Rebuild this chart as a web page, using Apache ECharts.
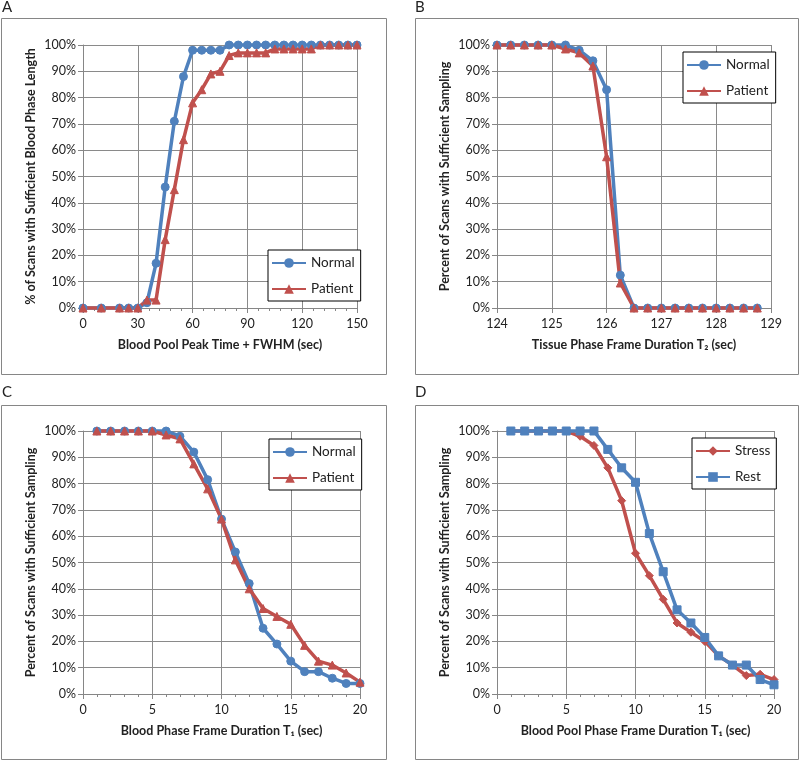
<!DOCTYPE html>
<html><head><meta charset="utf-8">
<script src="https://cdn.jsdelivr.net/npm/echarts@6/dist/echarts.min.js"></script>
<style>html,body{margin:0;padding:0;background:#fff}#c{width:800px;height:761px}</style>
</head><body><div id="c"></div>
<script>
// Panel A
const aX = [0,10,20,25,30,35,40,45,50,55,60,65,70,75,80,85,90,95,100,105,110,115,120,125,130,135,140,145,150];
const aNormal = [0,0,0,0,0,2,17,46,71,88,98,98,98,98,100,100,100,100,100,100,100,100,100,100,100,100,100,100,100];
const aPatient = [0,0,0,0,0,3,3,26,45,64,78,83,89,90,96,97,97,97,97,98.5,98.5,98.5,98.5,98.5,100,100,100,100,100];
// Panel B
const bX = [124,124.25,124.5,124.75,125,125.25,125.5,125.75,126,126.25,126.5,126.75,127,127.25,127.5,127.75,128,128.25,128.5,128.75];
const bNormal = [100,100,100,100,100,100,98,94,83,12.5,0,0,0,0,0,0,0,0,0,0];
const bPatient = [100,100,100,100,100,98.5,97,92,57.5,9.5,0,0,0,0,0,0,0,0,0,0];
// Panel C
const cX = [1,2,3,4,5,6,7,8,9,10,11,12,13,14,15,16,17,18,19,20];
const cNormal = [100,100,100,100,100,100,98,92,81.5,66.5,54,42,25,19,12.5,8.5,8.5,6,4,4];
const cPatient = [100,100,100,100,100,98.5,97,87.5,78,66.5,51,40,32.5,29.5,26.5,18.5,12.5,11,8,4.5];
// Panel D
const dX = [1,2,3,4,5,6,7,8,9,10,11,12,13,14,15,16,17,18,19,20];
const dStress = [100,100,100,100,100,98,94.5,86,73.5,53.5,45,36,27,23.5,20,14.5,11,7,7.5,5.5];
const dRest = [100,100,100,100,100,100,100,93,86,80.5,61,46.5,32,27,21.5,14.5,11,11,5.5,3.5];

const titlesX = ['Blood Pool Peak Time + FWHM (sec)','Tissue Phase Frame Duration T\u2082 (sec)','Blood Phase Frame Duration T\u2081 (sec)','Blood Pool Phase Frame Duration T\u2081 (sec)'];
const titlesY = ['% of Scans with Sufficient Blood Phase Length','Percent of Scans with Sufficient Sampling','Percent of Scans with Sufficient Sampling','Percent of Scans with Sufficient Sampling'];

const FONT = 'Lato, "Open Sans", sans-serif';
const BLUE = '#4F81BD', RED = '#C0504D';
const grids = [
  {left:83, top:45, width:274, height:263},
  {left:497, top:45, width:274, height:263},
  {left:83, top:431, width:277, height:263},
  {left:497, top:431, width:277, height:263}
];
const xRanges = [[0,150,30,5],[124,129,1,0],[0,20,5,5],[0,20,5,5]];
const gridLine = {show:true, lineStyle:{color:'#8a8a8a', width:1}};
const xAxis = xRanges.map((r,i)=>({
  type:'value', gridIndex:i, min:r[0], max:r[1], interval:r[2],
  axisLine:{show:true, onZero:false, lineStyle:{color:'#868686', width:1}},
  axisTick:{show:true, inside:false, length:5, lineStyle:{color:'#868686'}},
  minorTick:{show:r[3]>0, splitNumber:r[3]||5, length:3, lineStyle:{color:'#868686'}},
  splitLine:gridLine,
  axisLabel:{color:'#222', fontFamily:FONT, fontSize:12.5, margin:9},
  name:titlesX[i], nameLocation:'middle', nameGap:30,
  nameTextStyle:{color:'#222', fontFamily:FONT, fontSize:12.5, fontWeight:'bold'}
}));
const yAxis = [0,1,2,3].map(i=>({
  type:'value', gridIndex:i, min:0, max:100, interval:10,
  axisLine:{show:true, lineStyle:{color:'#868686', width:1}},
  axisTick:{show:true, inside:false, length:5, lineStyle:{color:'#868686'}},
  splitLine:gridLine,
  axisLabel:{color:'#222', fontFamily:FONT, fontSize:12.5, margin:7, formatter:'{value}%'},
  name:titlesY[i], nameLocation:'middle', nameGap:46,
  nameTextStyle:{color:'#222', fontFamily:FONT, fontSize:12.5, fontWeight:'bold'}
}));
function mk(name, xs, ys, gi, color, symbol, size){
  return {name, type:'line', xAxisIndex:gi, yAxisIndex:gi,
    data: xs.map((x,k)=>[x, ys[k]]),
    symbol, symbolSize:size, showSymbol:true,
    lineStyle:{color, width:3.5}, itemStyle:{color, borderColor:color},
    emphasis:{disabled:true}, animation:false, clip:false};
}
const series = [
  mk('Normal', aX, aNormal, 0, BLUE, 'circle', 8),
  mk('Patient', aX, aPatient, 0, RED, 'triangle', 8),
  mk('Normal', bX, bNormal, 1, BLUE, 'circle', 8),
  mk('Patient', bX, bPatient, 1, RED, 'triangle', 8),
  mk('Normal', cX, cNormal, 2, BLUE, 'circle', 8),
  mk('Patient', cX, cPatient, 2, RED, 'triangle', 8),
  mk('Stress', dX, dStress, 3, RED, 'diamond', 8),
  mk('Rest', dX, dRest, 3, BLUE, 'rect', 8)
];
series.forEach((s,i)=>{ s.id='s'+i; });
function leg(left, top, names){
  return {left, top, orient:'vertical', data:names, itemWidth:34, itemHeight:12, itemGap:12,
    padding:[6,6,5,3], borderColor:'#000', borderWidth:1, backgroundColor:'#fff',
    textStyle:{color:'#222', fontFamily:FONT, fontSize:13.5}, selectedMode:false};
}
const chart = echarts.init(document.getElementById('c'), null, {renderer:'canvas'});
chart.setOption({
  animation:false,
  grid: grids,
  xAxis, yAxis, series,
  legend: [leg(268,250,['Normal','Patient']), leg(683,52,['Normal','Patient']), leg(269,439,['Normal','Patient']), leg(692,438,['Stress','Rest'])],
  graphic: [
    {type:'rect', shape:{x:1.5,y:18.5,width:385,height:356}, style:{fill:'none', stroke:'#868686', lineWidth:1}, silent:true},
    {type:'rect', shape:{x:415.5,y:18.5,width:383,height:356}, style:{fill:'none', stroke:'#868686', lineWidth:1}, silent:true},
    {type:'rect', shape:{x:1.5,y:405.5,width:385,height:354}, style:{fill:'none', stroke:'#868686', lineWidth:1}, silent:true},
    {type:'rect', shape:{x:415.5,y:405.5,width:383,height:354}, style:{fill:'none', stroke:'#868686', lineWidth:1}, silent:true},
    {type:'text', left:2, top:0, style:{text:'A', fill:'#222', font:'15px Lato'}},
    {type:'text', left:415, top:0, style:{text:'B', fill:'#222', font:'15px Lato'}},
    {type:'text', left:2, top:385, style:{text:'C', fill:'#222', font:'15px Lato'}},
    {type:'text', left:415, top:385, style:{text:'D', fill:'#222', font:'15px Lato'}}
  ]
});
</script></body></html>
